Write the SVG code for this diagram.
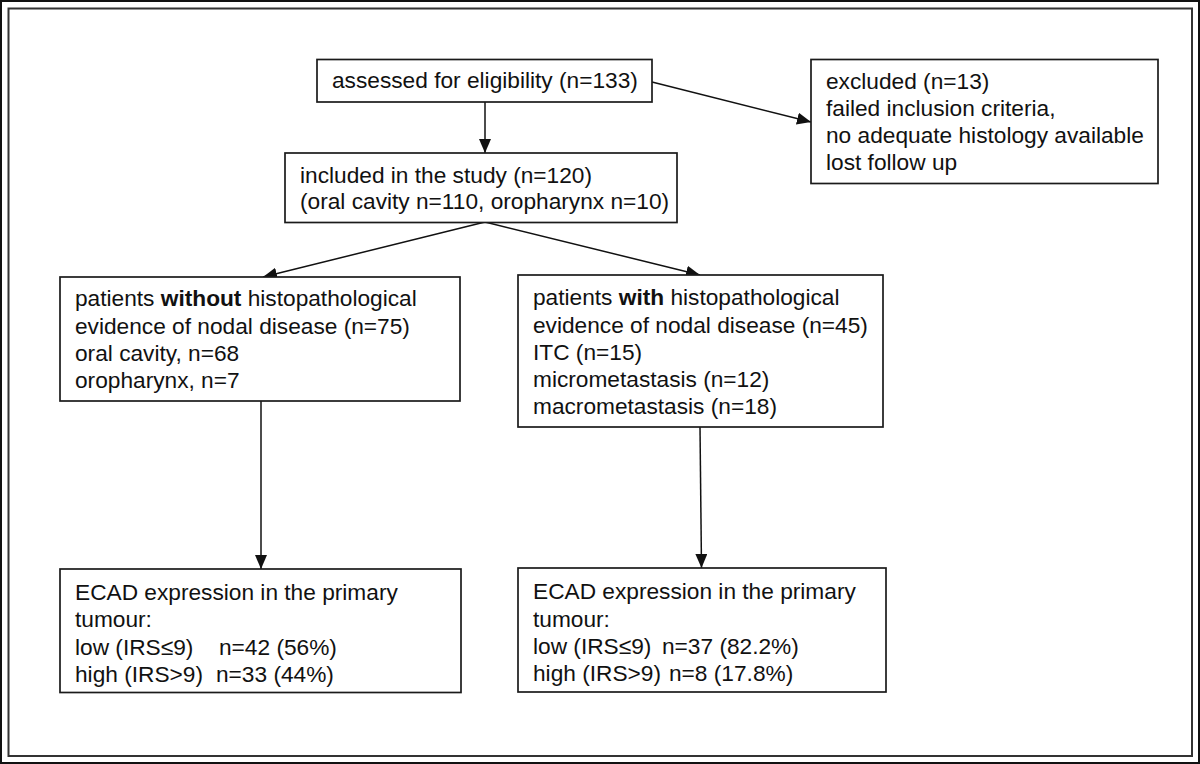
<svg xmlns="http://www.w3.org/2000/svg" width="1200" height="764" viewBox="0 0 1200 764">
<style>
.box{fill:#fff;stroke:#1a1a1a;stroke-width:1.7}
.t{font-family:"Liberation Sans",Arial,sans-serif;font-size:22.7px;fill:#111}
.b{font-weight:bold}
.c{stroke:#111;stroke-width:1.5;fill:none;marker-end:url(#ah)}
</style>
<defs>
<marker id="ah" markerUnits="userSpaceOnUse" markerWidth="14" markerHeight="12" viewBox="0 0 14 12" refX="14" refY="6" orient="auto">
<path d="M0,0 L14,6 L0,12 Z" fill="#111"/>
</marker>
</defs>
<rect x="0" y="0" width="1200" height="764" fill="#fff"/>
<rect x="1" y="1" width="1198" height="762" fill="none" stroke="#111" stroke-width="2"/>
<rect x="8.5" y="8.5" width="1183.5" height="747.5" fill="none" stroke="#333" stroke-width="2"/>
<g id="connectors">
<line class="c" x1="485" y1="102" x2="485" y2="153"/>
<line class="c" x1="652" y1="82" x2="811" y2="122"/>
<line class="c" x1="485" y1="222" x2="263" y2="277"/>
<line class="c" x1="485" y1="222" x2="700" y2="275"/>
<line class="c" x1="261" y1="401" x2="261" y2="569"/>
<line class="c" x1="700" y1="427" x2="701.5" y2="568"/>
</g>
<g id="assessed">
<rect class="box" x="317" y="59.5" width="335" height="42.5"/>
<text class="t" x="332" y="88">assessed for eligibility (n=133)</text>
</g>
<g id="excluded">
<rect class="box" x="811" y="59.5" width="347" height="124"/>
<text class="t" x="826" y="89">excluded (n=13)</text>
<text class="t" x="826" y="116">failed inclusion criteria,</text>
<text class="t" x="826" y="143">no adequate histology available</text>
<text class="t" x="826" y="169.5">lost follow up</text>
</g>
<g id="included">
<rect class="box" x="285" y="153" width="392" height="69.5"/>
<text class="t" x="300" y="183">included in the study (n=120)</text>
<text class="t" x="300" y="209">(oral cavity n=110, oropharynx n=10)</text>
</g>
<g id="without">
<rect class="box" x="60" y="277" width="400" height="124"/>
<text class="t" x="75" y="306">patients <tspan class="b">without</tspan> histopathological</text>
<text class="t" x="75" y="333.5">evidence of nodal disease (n=75)</text>
<text class="t" x="75" y="361">oral cavity, n=68</text>
<text class="t" x="75" y="388">oropharynx, n=7</text>
</g>
<g id="with">
<rect class="box" x="518" y="275" width="365" height="152"/>
<text class="t" x="533" y="305">patients <tspan class="b">with</tspan> histopathological</text>
<text class="t" x="533" y="332.5">evidence of nodal disease (n=45)</text>
<text class="t" x="533" y="360">ITC (n=15)</text>
<text class="t" x="533" y="387">micrometastasis (n=12)</text>
<text class="t" x="533" y="414">macrometastasis (n=18)</text>
</g>
<g id="ecad-without">
<rect class="box" x="60" y="569" width="401" height="123.5"/>
<text class="t" x="75" y="600">ECAD expression in the primary</text>
<text class="t" x="75" y="627">tumour:</text>
<text class="t" x="75" y="655">low (IRS≤9)<tspan x="219">n=42 (56%)</tspan></text>
<text class="t" x="75" y="682">high (IRS&gt;9)<tspan x="216">n=33 (44%)</tspan></text>
</g>
<g id="ecad-with">
<rect class="box" x="518" y="568" width="368" height="124"/>
<text class="t" x="533" y="599">ECAD expression in the primary</text>
<text class="t" x="533" y="626.5">tumour:</text>
<text class="t" x="533" y="654">low (IRS≤9)<tspan x="662">n=37 (82.2%)</tspan></text>
<text class="t" x="533" y="681">high (IRS&gt;9)<tspan x="669">n=8 (17.8%)</tspan></text>
</g>
</svg>
